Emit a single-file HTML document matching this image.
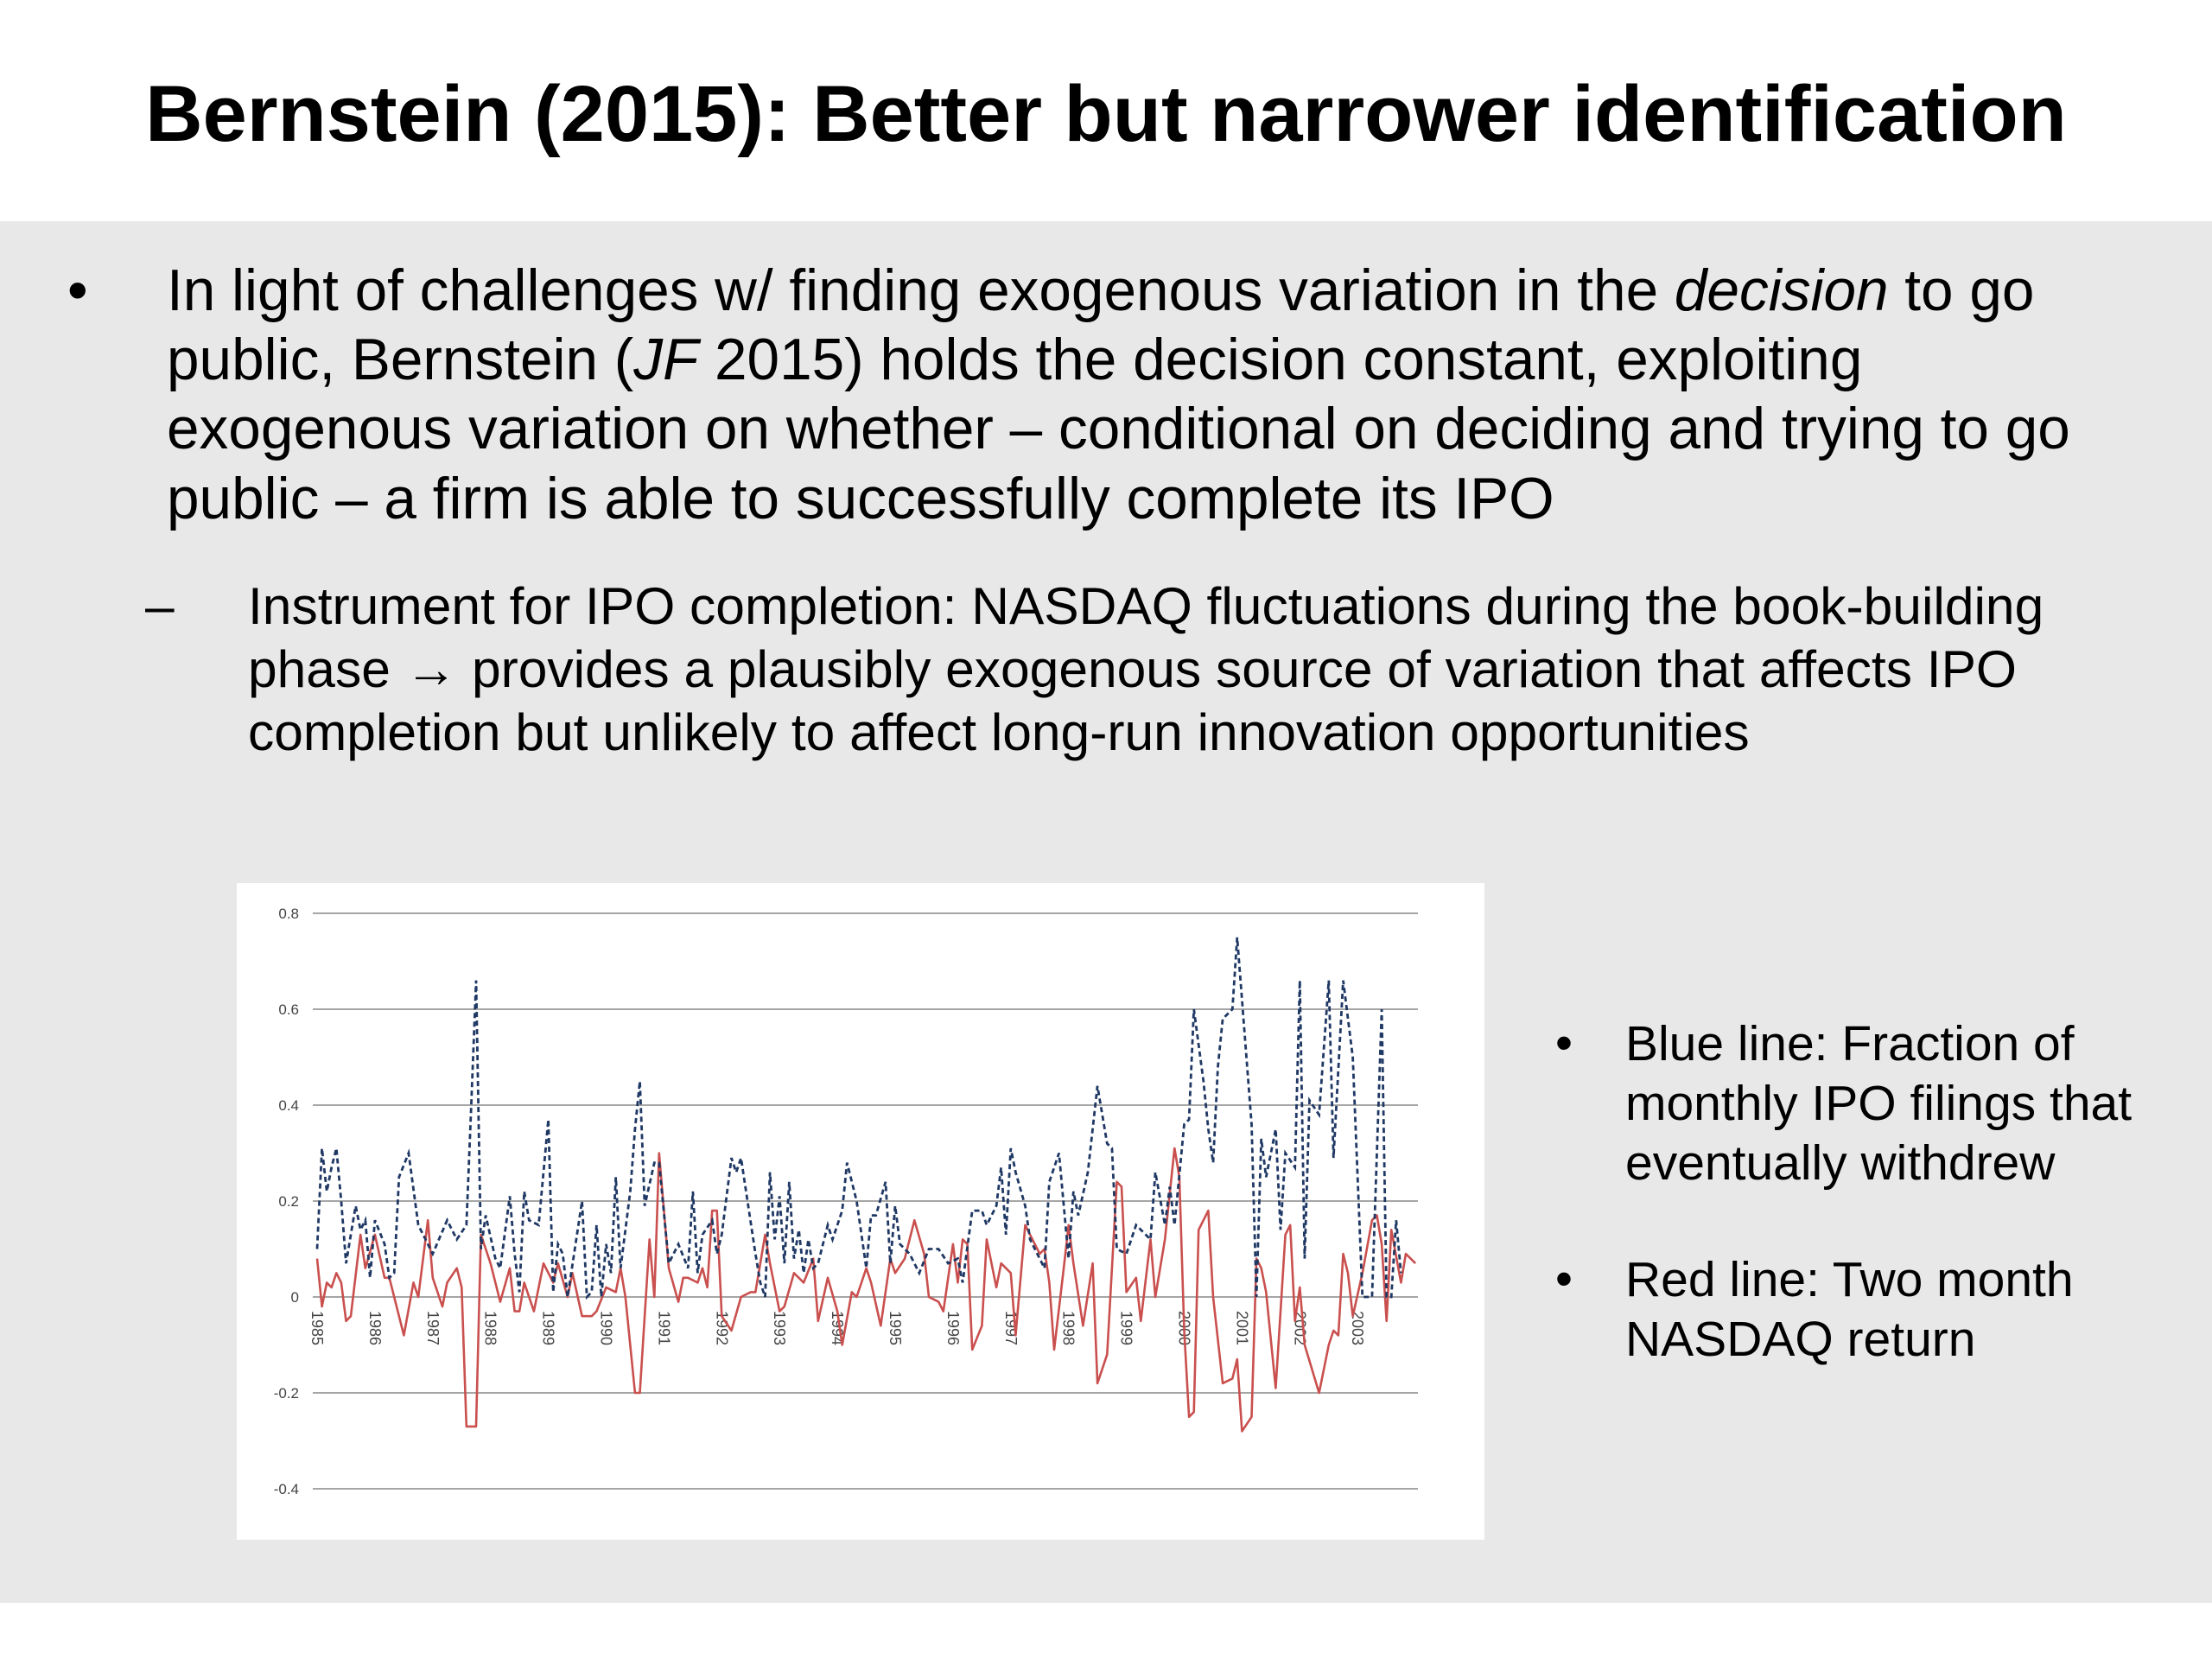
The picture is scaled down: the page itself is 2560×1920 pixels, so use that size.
<!DOCTYPE html>
<html><head><meta charset="utf-8"><style>
html,body{margin:0;padding:0;}
body{width:2560px;height:1920px;position:relative;background:#fff;font-family:"Liberation Sans",Arial,sans-serif;overflow:hidden;}
#title{position:absolute;left:0;width:2560px;top:80px;text-align:center;font-weight:bold;font-size:92px;color:#000;}
#band{position:absolute;left:0;top:256px;width:2560px;height:1599px;background:#e8e8e8;}
.t{position:absolute;white-space:nowrap;color:#000;}
.main{font-size:67.5px;}
.sub{font-size:60.5px;}
.side{font-size:57px;}
#chart{position:absolute;left:274px;top:1022px;width:1444px;height:760px;background:#fff;}
</style></head><body>
<div id="title">Bernstein (2015): Better but narrower identification</div>
<div id="band"></div>
<div class="t main" style="left:78px;top:298px">•</div>
<div class="t main" style="left:193px;top:298px">In light of challenges w/ finding exogenous variation in the <i>decision</i> to go</div>
<div class="t main" style="left:193px;top:378px">public, Bernstein (<i>JF</i> 2015) holds the decision constant, exploiting</div>
<div class="t main" style="left:193px;top:458px">exogenous variation on whether – conditional on deciding and trying to go</div>
<div class="t main" style="left:193px;top:539px">public – a firm is able to successfully complete its IPO</div>
<div class="t sub" style="left:168px;top:666px">–</div>
<div class="t sub" style="left:287px;top:666px">Instrument for IPO completion: NASDAQ fluctuations during the book-building</div>
<div class="t sub" style="left:287px;top:739px">phase <b>→</b> provides a plausibly exogenous source of variation that affects IPO</div>
<div class="t sub" style="left:287px;top:812px">completion but unlikely to affect long-run innovation opportunities</div>
<div class="t side" style="left:1800px;top:1174px">•</div>
<div class="t side" style="left:1881px;top:1174px;line-height:69px">Blue line: Fraction of<br>monthly IPO filings that<br>eventually withdrew</div>
<div class="t side" style="left:1800px;top:1447px">•</div>
<div class="t side" style="left:1881px;top:1447px;line-height:69px">Red line: Two month<br>NASDAQ return</div>
<div id="chart">
<svg id="svg" width="1444" height="760" xmlns="http://www.w3.org/2000/svg"></svg>
</div>
<script>
const yTicks=[0.8,0.6,0.4,0.2,0,-0.2,-0.4];
const yTickLabels=["0.8","0.6","0.4","0.2","0","-0.2","-0.4"];
const years=[1985,1986,1987,1988,1989,1990,1991,1992,1993,1994,1995,1996,1997,1998,1999,2000,2001,2002,2003];
const blueMonths=[0,1,2,3,4,5,6,8,9,10,11,12,14,15,16,17,19,21,23,24,27,29,31,32,33,34,35,37,38,40,41,42,43,44,46,48,49,50,51,52,55,56,57,58,59,60,61,62,63,65,66,67,68,70,71,73,75,77,78,79,80,82,83,84,86,87,88,91,92,93,94,95,96,97,98,99,100,101,102,103,104,106,107,109,110,112,114,115,116,118,119,120,121,123,125,127,129,131,133,134,136,138,139,141,142,143,144,145,147,148,151,152,154,156,157,158,160,162,164,165,166,168,170,171,173,174,176,177,178,180,181,182,184,185,186,187,188,190,191,192,194,195,196,197,199,200,201,203,204,205,206,208,210,211,213,215,217,219,221,222,223,224,225];
const blueValues=[0.10,0.31,0.22,0.27,0.31,0.20,0.07,0.19,0.14,0.16,0.04,0.16,0.11,0.04,0.05,0.25,0.30,0.15,0.11,0.09,0.16,0.12,0.15,0.40,0.66,0.10,0.17,0.08,0.06,0.21,0.09,0.01,0.22,0.16,0.15,0.37,0.01,0.11,0.09,0.0,0.20,0.0,0.01,0.15,0.0,0.11,0.05,0.25,0.06,0.22,0.35,0.45,0.19,0.28,0.28,0.07,0.11,0.06,0.22,0.05,0.13,0.16,0.09,0.13,0.29,0.26,0.29,0.09,0.03,0.0,0.26,0.12,0.21,0.07,0.24,0.08,0.14,0.05,0.12,0.06,0.07,0.15,0.12,0.18,0.28,0.20,0.06,0.17,0.17,0.24,0.07,0.19,0.11,0.09,0.05,0.10,0.10,0.07,0.08,0.03,0.18,0.18,0.15,0.19,0.27,0.13,0.31,0.26,0.19,0.12,0.06,0.24,0.30,0.08,0.22,0.17,0.26,0.44,0.32,0.31,0.10,0.09,0.15,0.14,0.12,0.26,0.15,0.23,0.15,0.36,0.37,0.60,0.45,0.35,0.28,0.48,0.58,0.60,0.75,0.62,0.36,0.0,0.33,0.25,0.35,0.14,0.30,0.27,0.66,0.08,0.41,0.38,0.66,0.29,0.66,0.50,0.0,0.0,0.60,0.0,0.0,0.16,0.05];
const redMonths=[0,1,2,3,4,5,6,7,9,10,12,14,15,18,20,21,23,24,26,27,29,30,31,33,34,36,38,40,41,42,43,45,47,49,50,52,53,55,57,58,60,62,63,64,66,67,69,70,71,73,75,76,77,79,80,81,82,83,84,86,88,90,91,93,94,96,97,99,101,103,104,106,108,109,111,112,114,115,117,119,120,122,124,126,127,129,130,132,133,134,135,136,138,139,140,141,142,144,145,147,148,150,151,152,153,155,156,157,159,161,162,164,166,167,168,170,171,173,174,176,178,179,180,181,182,183,185,186,188,190,191,192,194,195,196,197,199,201,202,203,204,205,208,210,211,212,213,214,215,217,219,220,221,222,223,225,226,228];
const redValues=[0.08,-0.02,0.03,0.02,0.05,0.03,-0.05,-0.04,0.13,0.06,0.13,0.04,0.04,-0.08,0.03,0.0,0.16,0.04,-0.02,0.03,0.06,0.02,-0.27,-0.27,0.13,0.07,-0.01,0.06,-0.03,-0.03,0.03,-0.03,0.07,0.03,0.07,0.0,0.05,-0.04,-0.04,-0.03,0.02,0.01,0.06,0.0,-0.20,-0.20,0.12,0.0,0.30,0.06,-0.01,0.04,0.04,0.03,0.06,0.02,0.18,0.18,-0.04,-0.07,0.0,0.01,0.01,0.13,0.07,-0.03,-0.02,0.05,0.03,0.08,-0.05,0.04,-0.03,-0.10,0.01,0.0,0.06,0.03,-0.06,0.08,0.05,0.08,0.16,0.09,0.0,-0.01,-0.03,0.11,0.03,0.12,0.11,-0.11,-0.06,0.12,0.07,0.02,0.07,0.05,-0.08,0.15,0.13,0.09,0.10,0.03,-0.11,0.06,0.15,0.07,-0.06,0.07,-0.18,-0.12,0.24,0.23,0.01,0.04,-0.05,0.12,0.0,0.12,0.31,0.25,-0.07,-0.25,-0.24,0.14,0.18,0.0,-0.18,-0.17,-0.13,-0.28,-0.25,0.08,0.06,0.01,-0.19,0.13,0.15,-0.05,0.02,-0.10,-0.20,-0.10,-0.07,-0.08,0.09,0.05,-0.04,0.05,0.16,0.17,0.11,-0.05,0.14,0.03,0.09,0.07];

const NS="http://www.w3.org/2000/svg";
const svg=document.getElementById('svg');
const X0=93, PXM=5.575, Y0=479, PXU=555;
function xm(m){return X0+m*PXM;}
function yv(v){return Y0-v*PXU;}
function mk(tag,attrs){const e=document.createElementNS(NS,tag);for(const k in attrs)e.setAttribute(k,attrs[k]);svg.appendChild(e);return e;}
yTicks.forEach((v,i)=>{
  const g=mk('line',{x1:88,x2:1367,y1:yv(v),y2:yv(v),stroke:'#a6a6a6','stroke-width':2});
  
  
  const t=mk('text',{x:72,y:yv(v)+6,'text-anchor':'end','font-size':17,fill:'#444','font-family':'Liberation Sans, sans-serif'});
  t.textContent=yTickLabels[i];
  
  
});
years.forEach((yr,i)=>{
  const x=xm(i*12);
  const t=mk('text',{x:0,y:0,'font-size':18,fill:'#444','font-family':'Liberation Sans, sans-serif',transform:`translate(${x-6},${yv(0)+16}) rotate(90)`});
  t.textContent=String(yr);
  
  
});
function path(ms,vs){return ms.map((m,i)=>(i?'L':'M')+xm(m).toFixed(1)+','+yv(vs[i]).toFixed(1)).join(' ');}
const red=mk('path',{d:path(redMonths,redValues),fill:'none',stroke:'#c9504e','stroke-width':2.6,'stroke-linejoin':'round'});


const blue=mk('path',{d:path(blueMonths,blueValues),fill:'none',stroke:'#1f3864','stroke-width':2.8,'stroke-dasharray':'6 4'});


</script>
</body></html>
